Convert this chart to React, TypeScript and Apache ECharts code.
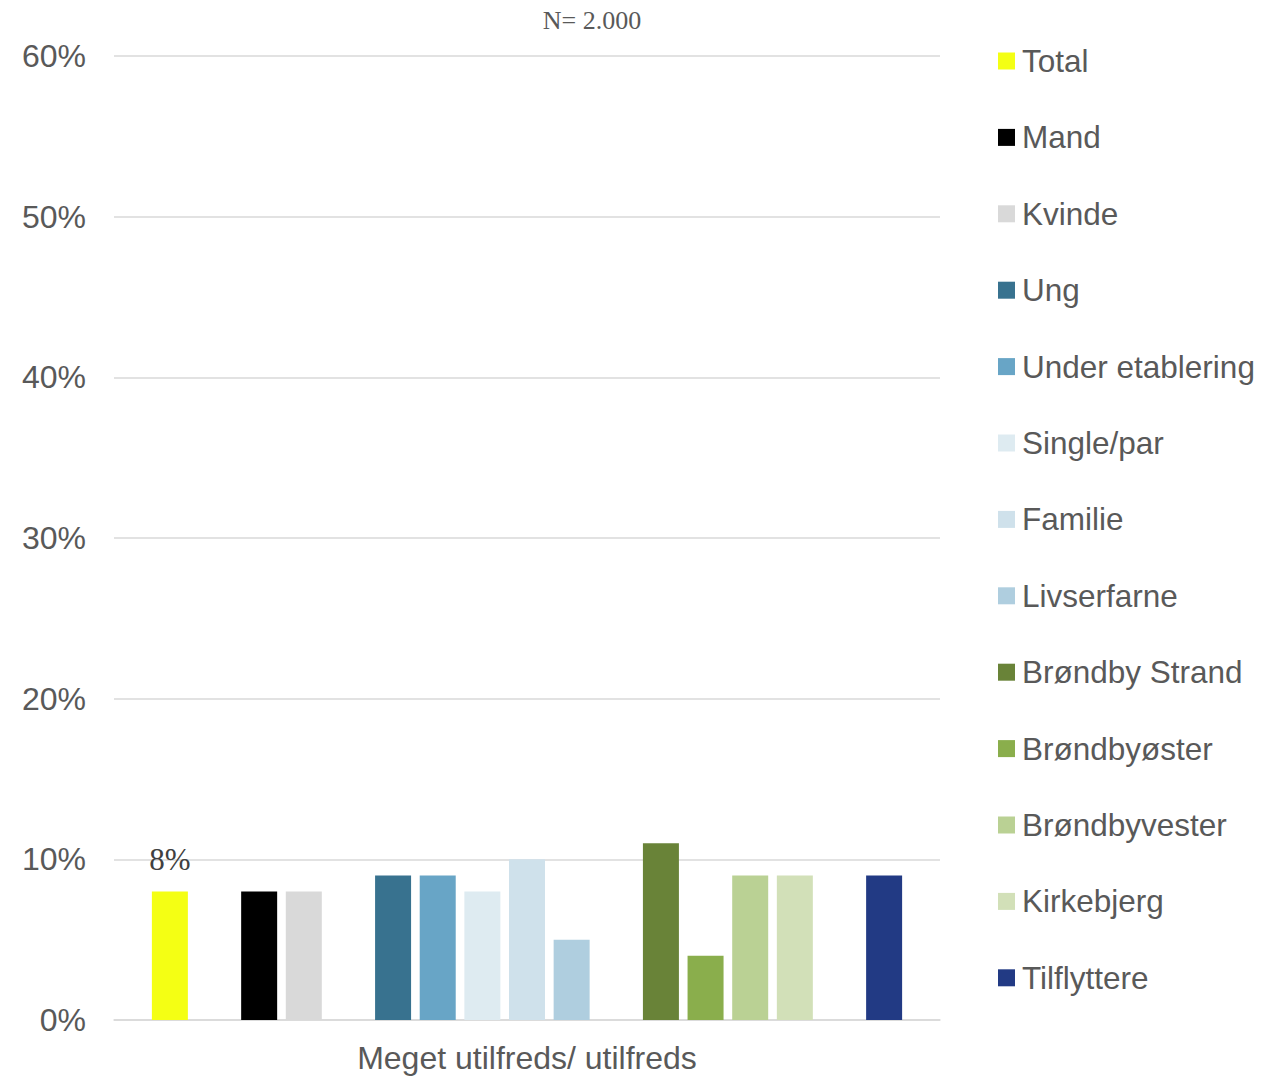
import React, { useEffect, useRef } from "react";
import * as echarts from "echarts";

const categories = ["Meget utilfreds/ utilfreds"];
const seriesNames = [
  "Total",
  "Mand",
  "Kvinde",
  "Ung",
  "Under etablering",
  "Single/par",
  "Familie",
  "Livserfarne",
  "Brøndby Strand",
  "Brøndbyøster",
  "Brøndbyvester",
  "Kirkebjerg",
  "Tilflyttere",
];
const seriesValues = [8, 8, 8, 9, 9, 8, 10, 5, 11, 4, 9, 9, 9];
const seriesColors = [
  "#F4FF14",
  "#000000",
  "#D9D9D9",
  "#38728F",
  "#68A5C6",
  "#DEEBF1",
  "#CFE1EB",
  "#AFCEDF",
  "#698338",
  "#8AAE4C",
  "#BAD194",
  "#D2E0B8",
  "#223A84",
];
// a spacer slot is inserted after these series indices
const spacerAfter = [0, 2, 7, 11];
const yTicks = [0, 10, 20, 30, 40, 50, 60];
const titleText = "N= 2.000";

const SANS = '"Liberation Sans", Arial, sans-serif';
const SERIF = '"Liberation Serif", "Times New Roman", serif';

export default function App() {
  const ref = useRef<HTMLDivElement>(null);

  useEffect(() => {
    if (!ref.current) return;
    const chart = echarts.init(ref.current, undefined, { renderer: "svg" });

    const series: any[] = [];
    seriesNames.forEach((name, i) => {
      series.push({
        type: "bar",
        name,
        data: [seriesValues[i]],
        barWidth: 36,
        barGap: "24%",
        itemStyle: { color: seriesColors[i] },
        label:
          i === 0
            ? {
                show: true,
                position: "top",
                distance: 16,
                formatter: "{c}%",
                fontFamily: SERIF,
                fontSize: 31,
                color: "#404040",
              }
            : { show: false },
      });
      if (spacerAfter.includes(i)) {
        series.push({
          type: "bar",
          name: "spacer" + i,
          data: ["-"],
          barWidth: 36,
          barGap: "24%",
          silent: true,
        });
      }
    });

    chart.setOption({
      animation: false,
      backgroundColor: "#ffffff",
      grid: { left: 114, right: 346, top: 56, bottom: 56, containLabel: false },
      graphic: [
        {
          type: "text",
          x: 592,
          y: 20,
          style: {
            text: titleText,
            textAlign: "center",
            textVerticalAlign: "middle",
            fontFamily: SERIF,
            fontSize: 26,
            fill: "#595959",
          },
        },
      ],
      legend: {
        orient: "vertical",
        left: 998,
        top: 45,
        padding: 0,
        data: seriesNames,
        icon: "rect",
        itemWidth: 17,
        itemHeight: 17,
        itemGap: 44.4,
        textStyle: {
          fontFamily: SANS,
          fontSize: 31.5,
          lineHeight: 31,
          color: "#595959",
          padding: [0, 0, 0, 2],
        },
        selectedMode: false,
      },
      xAxis: {
        type: "category",
        data: categories,
        axisLine: { lineStyle: { color: "#D9D9D9", width: 1.5 } },
        axisTick: { show: false },
        axisLabel: {
          fontFamily: SANS,
          fontSize: 32,
          color: "#595959",
          margin: 22,
        },
      },
      yAxis: {
        type: "value",
        min: 0,
        max: 60,
        interval: 10,
        axisLine: { show: false },
        axisTick: { show: false },
        splitLine: { lineStyle: { color: "#D9D9D9", width: 1.5 } },
        axisLabel: {
          formatter: (v: number) => (yTicks.includes(v) ? v + "%" : ""),
          fontFamily: SANS,
          fontSize: 32,
          color: "#595959",
          margin: 28,
        },
      },
      series,
    });

    return () => chart.dispose();
  }, []);

  return (
    <div
      ref={ref}
      style={{ position: "absolute", left: 0, top: 0, width: 1286, height: 1076 }}
    />
  );
}
